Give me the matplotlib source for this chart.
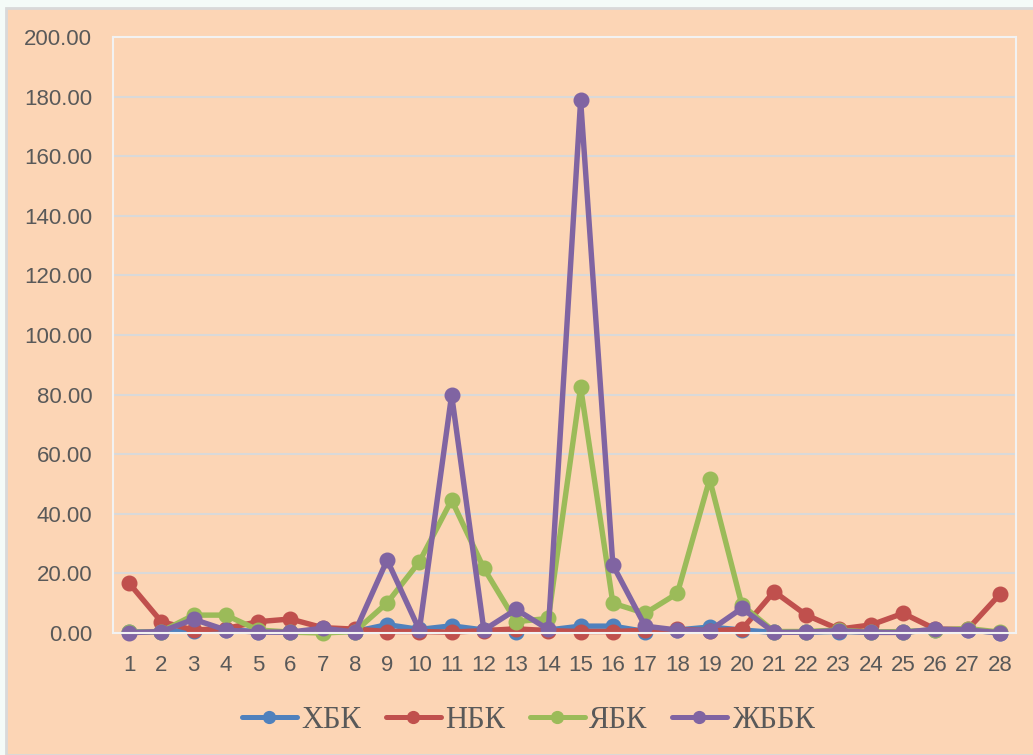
import numpy as np
import matplotlib.pyplot as plt
from matplotlib.patches import Rectangle

# data
samples = list(range(1, 29))
hbk = [0.3, 0.5, 0.8, 1.0, 0.5, 0.3, 0.5, 0.5, 2.8, 1.2, 2.4, 1.0, 0.5, 1.0, 2.3, 2.3,
       0.5, 1.0, 2.0, 1.0, 0.2, 0.3, 0.5, 0.3, 0.3, 1.0, 1.0, 0.1]
nbk = [16.7, 3.8, 1.0, 1.5, 3.8, 4.7, 1.8, 1.3, 0.5, 0.5, 0.3, 0.8, 1.4, 0.8, 0.5, 0.5,
       0.9, 1.2, 0.8, 1.2, 13.9, 6.0, 1.3, 2.7, 6.6, 1.3, 1.2, 13.0]
ybk = [0.2, 0.5, 6.0, 6.0, 1.0, 0.3, 0.0, 0.5, 10.1, 23.9, 44.6, 21.7, 3.8, 4.9, 82.5, 10.0,
       6.6, 13.3, 51.6, 9.4, 0.5, 0.5, 1.0, 0.3, 0.5, 1.0, 1.5, 0.3]
zhbbk = [0.1, 0.5, 4.6, 1.0, 0.3, 0.3, 1.6, 0.3, 24.5, 1.0, 79.9, 1.0, 7.9, 1.2, 178.8, 22.8,
         2.3, 1.0, 0.8, 8.3, 0.2, 0.3, 0.8, 0.2, 0.2, 1.3, 1.0, 0.1]
series = [('ХБК', hbk, '#4F81BD'), ('НБК', nbk, '#C0504D'),
          ('ЯБК', ybk, '#9BBB59'), ('ЖББК', zhbbk, '#8064A2')]
yticks = np.arange(0, 201, 20)

W, H, DPI = 1033, 755, 100
fig = plt.figure(figsize=(W / DPI, H / DPI), dpi=DPI, facecolor='#F4FBF8')
fig.patches.append(Rectangle((6 / W, 0), 1, 1 - 8 / H, transform=fig.transFigure,
                             facecolor='#FCD5B5', edgecolor='#D9D9D9', lw=2, zorder=-5))

ax = fig.add_axes([113 / W, 1 - 633 / H, (1016 - 113) / W, (633 - 37) / H])
ax.set_facecolor('#FCD5B5')

for name, vals, col in series:
    ax.plot(samples, vals, color=col, lw=3.9, marker='o', ms=10.5,
            solid_joinstyle='round', label=name, clip_on=False)

ax.set_xlim(0.5, 28.5)
ax.set_ylim(0, 200)
ax.set_xticks(samples)
ax.set_yticks(yticks)
ax.set_yticklabels([f'{v:.2f}' for v in yticks])
ax.grid(axis='y', color='#D9D9D9', lw=1.5)
ax.set_axisbelow(True)
for s in ax.spines.values():
    s.set_color('#F2F2F2')
    s.set_linewidth(1.5)
ax.tick_params(length=0, labelsize=16, labelcolor='#595959')
ax.tick_params(axis='y', pad=15)
ax.tick_params(axis='x', pad=16)
for lab in ax.get_xticklabels() + ax.get_yticklabels():
    lab.set_family('Liberation Sans')

leg = fig.legend(loc='center', bbox_to_anchor=(528 / W, 1 - 720 / H), ncol=4,
                 frameon=False, handlelength=1.8, columnspacing=0.8, handletextpad=0.15,
                 prop={'family': 'Liberation Serif', 'size': 22})
for t in leg.get_texts():
    t.set_color('#595959')
for h in leg.legend_handles:
    h.set_linewidth(3.6)
    h.set_markersize(8.5)
    h.set_solid_capstyle('round')

fig.savefig('out.png', dpi=DPI, facecolor=fig.get_facecolor())
